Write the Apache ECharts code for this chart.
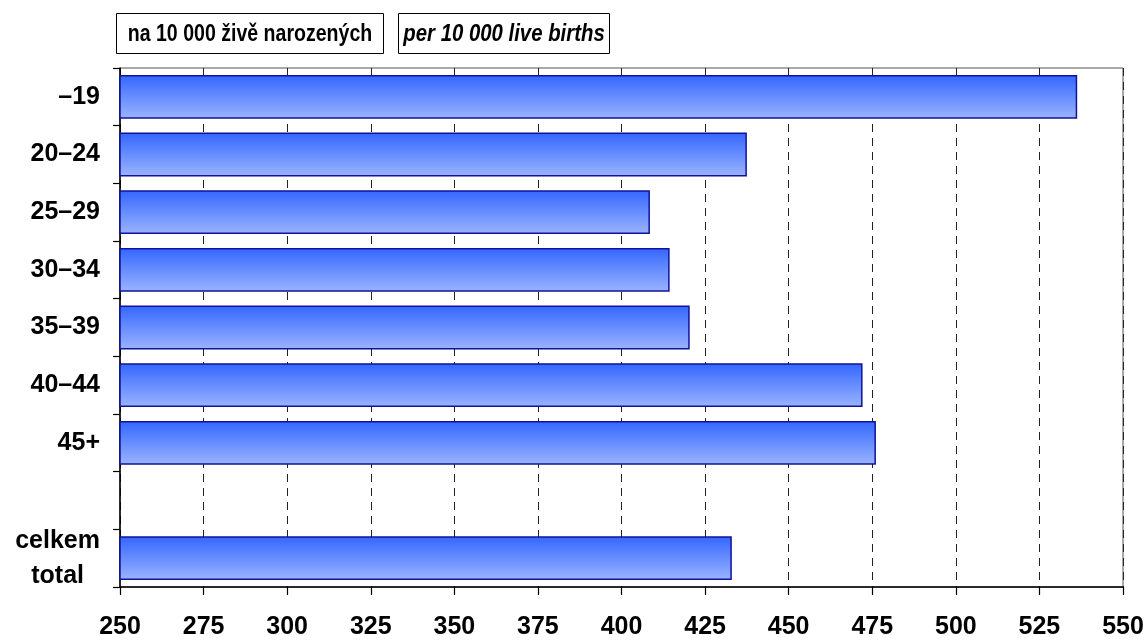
<!DOCTYPE html>
<html>
<head>
<meta charset="utf-8">
<script src="https://cdn.jsdelivr.net/npm/echarts@6/dist/echarts.min.js"></script>
<style>
html,body{margin:0;padding:0;background:#fff;}
#c{width:1148px;height:640px;}
</style>
</head>
<body>
<div id="c"></div>
<script>
const categories = ['–19', '20–24', '25–29', '30–34', '35–39', '40–44', '45+', '', 'celkem\ntotal'];
const values = [536.3, 437.5, 408.5, 414.4, 420.4, 472.1, 476.1, null, 433.0];
const xTicks = {min: 250, max: 550, interval: 25};
const titleCz = 'na 10 000 živě narozených';
const titleEn = 'per 10 000 live births';

const chart = echarts.init(document.getElementById('c'), null, {renderer: 'canvas'});
const FONT = 'Liberation Sans, Arial, sans-serif';

chart.setOption({
  backgroundColor: '#fff',
  animation: false,
  grid: {
    left: 120, right: 25, top: 68, bottom: 52,
    show: true, borderColor: '#555', borderWidth: 1, backgroundColor: 'transparent'
  },
  xAxis: {
    type: 'value',
    min: xTicks.min, max: xTicks.max, interval: xTicks.interval,
    axisLine: {show: true, lineStyle: {color: '#000', width: 1.5}},
    axisTick: {show: true, length: 8, lineStyle: {color: '#000', width: 1.2}},
    axisLabel: {color: '#000', fontFamily: FONT, fontWeight: 'bold', fontSize: 25, margin: 28},
    splitLine: {show: true, lineStyle: {color: '#222', type: [8, 6], width: 1}}
  },
  yAxis: {
    type: 'category',
    inverse: true,
    data: categories,
    axisLine: {show: true, lineStyle: {color: '#000', width: 1.5}},
    axisTick: {show: true, length: 7, lineStyle: {color: '#000', width: 1.2}},
    axisLabel: {
      color: '#000', fontFamily: FONT, fontWeight: 'bold', fontSize: 25, margin: 20,
      formatter: function (v) {
        if (v.indexOf('\n') >= 0) {
          return v.split('\n').map(s => '{c|' + s + '}').join('\n');
        }
        return v;
      },
      rich: {
        c: {align: 'center', fontFamily: FONT, fontWeight: 'bold', fontSize: 25, color: '#000', lineHeight: 35}
      }
    },
    splitLine: {show: false}
  },
  series: [{
    type: 'bar',
    data: values,
    barWidth: '76%',
    itemStyle: {
      color: new echarts.graphic.LinearGradient(0, 0, 0, 1, [
        {offset: 0, color: '#3366ff'},
        {offset: 1, color: '#9bb4ff'}
      ]),
      borderColor: '#10139a',
      borderWidth: 1.5
    }
  }],
  graphic: [
    {
      type: 'group', left: 116, top: 13,
      children: [
        {type: 'rect', shape: {x: 0, y: 0, width: 267, height: 40}, style: {fill: '#fff', stroke: '#000', lineWidth: 1}},
        {type: 'text', x: 133.5, y: 21, scaleX: 0.85, style: {text: titleCz, font: 'bold 23px ' + FONT, fill: '#000', align: 'center', verticalAlign: 'middle'}}
      ]
    },
    {
      type: 'group', left: 398, top: 13,
      children: [
        {type: 'rect', shape: {x: 0, y: 0, width: 211, height: 40}, style: {fill: '#fff', stroke: '#000', lineWidth: 1}},
        {type: 'text', x: 105.5, y: 21, scaleX: 0.885, style: {text: titleEn, font: 'italic bold 23px ' + FONT, fill: '#000', align: 'center', verticalAlign: 'middle'}}
      ]
    }
  ]
});
</script>
</body>
</html>
